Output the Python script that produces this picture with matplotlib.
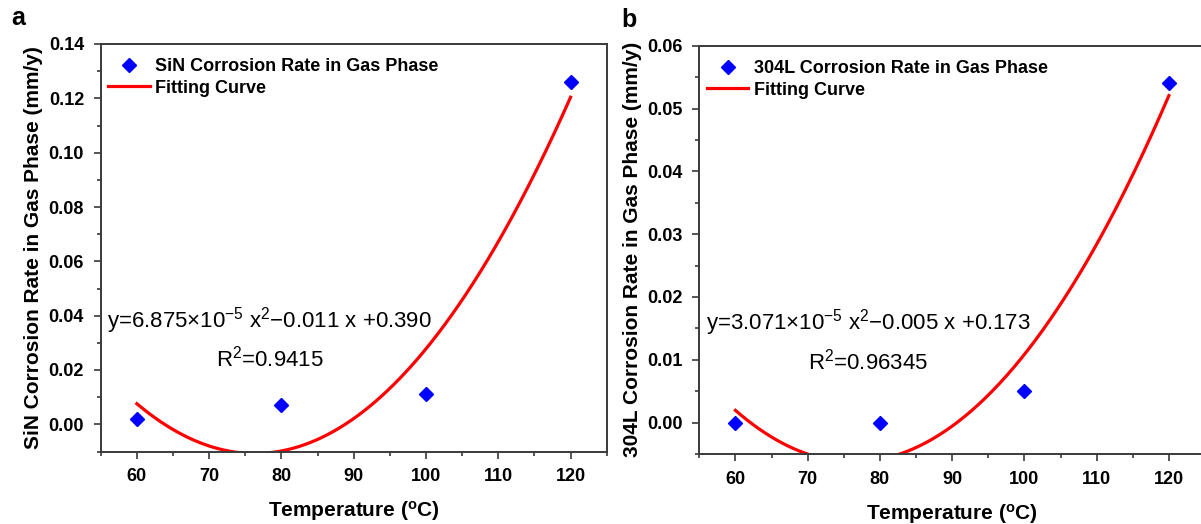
import numpy as np
import matplotlib
matplotlib.use('Agg')
import matplotlib.pyplot as plt

plt.rcParams['font.family'] = 'Liberation Sans'
plt.rcParams['mathtext.fontset'] = 'custom'
plt.rcParams['mathtext.rm'] = 'Liberation Sans'
plt.rcParams['mathtext.it'] = 'Liberation Sans:italic'
plt.rcParams['mathtext.bf'] = 'Liberation Sans:bold'

# datos
temps = [60, 80, 100, 120]
sin_rate = [0.002, 0.007, 0.011, 0.126]
ss_rate = [0.000, 0.000, 0.005, 0.054]

sin_label = 'SiN Corrosion Rate in Gas Phase'
ss_label = '304L Corrosion Rate in Gas Phase'
sin_eq = r'y=6.875$\times$10$^{-5}$ x$^{2}$$-$0.011 x +0.390'
ss_eq = r'y=3.071$\times$10$^{-5}$ x$^{2}$$-$0.005 x +0.173'
sin_r2 = r'R$^{2}$=0.9415'
ss_r2 = r'R$^{2}$=0.96345'

spine_c = '#3a3a3a'

fig = plt.figure(figsize=(12.01, 5.24), dpi=100)
W, H = 1201, 524


def panel(rect, rate, label, eq, r2, ylim, ystep, yminor, ylab, letter, letter_xy):
    ax = fig.add_axes([rect[0] / W, 1 - rect[3] / H,
                       (rect[2] - rect[0]) / W, (rect[3] - rect[1]) / H])
    coef = np.polyfit(temps, rate, 2)
    xs = np.linspace(60, 120, 300)
    ax.plot(temps, rate, 'D', color='#0000ff', ms=7.5, label=label,
            linestyle='none', zorder=3)
    ax.plot(xs, np.polyval(coef, xs), color='#ff0000', lw=2.3,
            label='Fitting Curve')
    ax.set_xlim(55, 125)
    ax.set_ylim(*ylim)
    ax.set_xticks(np.arange(60, 121, 10))
    ax.set_xticks(np.arange(55, 126, 5), minor=True)
    ax.set_yticks(np.arange(0, ylim[1] + 1e-9, ystep))
    ax.set_yticks(np.arange(ylim[0], ylim[1] + 1e-9, yminor), minor=True)
    ax.yaxis.set_major_formatter(matplotlib.ticker.FormatStrFormatter('%.2f'))
    for s in ax.spines.values():
        s.set_color(spine_c)
        s.set_linewidth(1.4)
    ax.tick_params(which='major', direction='out', length=5, width=1.2,
                   color=spine_c, labelsize=13, pad=7)
    ax.tick_params(which='minor', direction='out', length=3, width=1.2,
                   color=spine_c)
    for t in ax.get_xticklabels() + ax.get_yticklabels():
        t.set_fontweight('bold')
    ax.set_xlabel(r'Temperature ($\mathbf{^{o}}$C)', fontsize=15,
                  fontweight='bold', va='center')
    ax.xaxis.set_label_coords(0.5, -60 / (rect[3] - rect[1]))
    ax.set_ylabel(ylab, fontsize=15, fontweight='bold', va='center')
    ax.yaxis.set_label_coords(-67 / (rect[2] - rect[0]), 0.5)
    ax.text(0.334, 0.322, eq, transform=ax.transAxes, fontsize=16,
            ha='center', va='center')
    ax.text(0.334, 0.227, r2, transform=ax.transAxes, fontsize=16,
            ha='center', va='center')
    leg = ax.legend(loc='upper left', bbox_to_anchor=(0.015, 0.965),
                    frameon=False, borderaxespad=0, borderpad=0,
                    handlelength=2.3, handletextpad=0.3, labelspacing=0.25,
                    numpoints=1, prop={'size': 13, 'weight': 'bold'})
    fig.text(letter_xy[0] / W, 1 - letter_xy[1] / H, letter, fontsize=18,
             fontweight='bold', ha='center', va='center')
    return ax


panel((100.7, 44, 606.7, 451.5), sin_rate, sin_label, sin_eq, sin_r2,
      (-0.01, 0.14), 0.02, 0.01,
      'SiN Corrosion Rate in Gas Phase (mm/y)', 'a', (18, 18))
panel((699.3, 45.7, 1205, 454), ss_rate, ss_label, ss_eq, ss_r2,
      (-0.005, 0.06), 0.01, 0.005,
      '304L Corrosion Rate in Gas Phase (mm/y)', 'b', (629, 20))

fig.savefig('out.png', dpi=100)
